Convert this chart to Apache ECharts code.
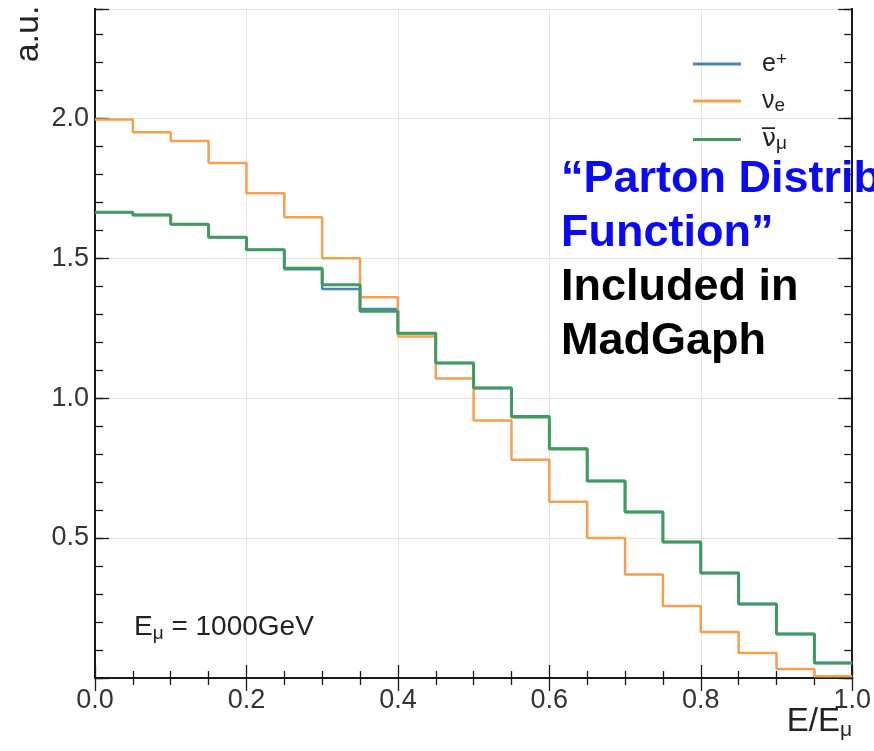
<!DOCTYPE html>
<html><head><meta charset="utf-8">
<script src="https://cdn.jsdelivr.net/npm/echarts@6/dist/echarts.min.js"></script>
<style>html,body{margin:0;padding:0;background:#fff}#c{width:874px;height:751px}</style>
</head><body><div id="c"></div>
<script>
// ---- data ----
const binEdges = [0.00,0.05,0.10,0.15,0.20,0.25,0.30,0.35,0.40,0.45,0.50,0.55,0.60,0.65,0.70,0.75,0.80,0.85,0.90,0.95,1.00];
const ePlus   = [1.664,1.654,1.621,1.575,1.530,1.460,1.390,1.318,1.232,1.125,1.036,0.935,0.820,0.704,0.593,0.486,0.375,0.264,0.157,0.054];
const nuE     = [1.995,1.950,1.918,1.840,1.732,1.646,1.500,1.360,1.220,1.070,0.920,0.780,0.630,0.500,0.370,0.257,0.164,0.089,0.032,0.006];
const nuMuBar = [1.664,1.654,1.621,1.575,1.530,1.464,1.405,1.310,1.232,1.125,1.036,0.932,0.818,0.704,0.593,0.486,0.375,0.264,0.157,0.054];
const seriesNames = ['e+','nue','numubar'];
const xTickLabels = ['0.0','0.2','0.4','0.6','0.8','1.0'];
const yTickLabels = ['0.5','1.0','1.5','2.0'];

const FONT = '"Liberation Sans", Arial, Helvetica, sans-serif';
const COLORS = ['#4b84b4', '#f6a04f', '#3f9b5e'];

function histData(vals) {
  const d = vals.map((v, i) => [binEdges[i], v]);
  d.push([binEdges[binEdges.length - 1], vals[vals.length - 1]]);
  return d;
}

const chart = echarts.init(document.getElementById('c'), null, {renderer: 'canvas'});

const axisLine = {show: true, lineStyle: {color: '#1a1a1a', width: 2}};
const yMax = 2.39;

function yAxisDef(pos, interval, tickLen, labels, split) {
  return {
    type: 'value', position: pos, min: 0, max: yMax, interval: interval,
    axisLine: axisLine,
    axisTick: {show: true, inside: true, length: tickLen, lineStyle: {color: '#1a1a1a', width: 1.3}},
    axisLabel: labels ? {
      show: true, fontSize: 27, fontFamily: FONT, color: '#333', margin: 6,
      formatter: function (v) {
        const s = v.toFixed(1);
        return yTickLabels.indexOf(s) >= 0 && Math.abs(v - parseFloat(s)) < 1e-6 ? s : '';
      }
    } : {show: false},
    splitLine: split ? {show: true, lineStyle: {color: '#e4e4e4', width: 1}} : {show: false}
  };
}

function xAxisDef(pos, labels, split) {
  return {
    type: 'value', position: pos, min: 0, max: 1, interval: 0.2,
    axisLine: axisLine,
    axisTick: {show: true, inside: true, length: 13, lineStyle: {color: '#1a1a1a', width: 1.3}},
    minorTick: {show: true, splitNumber: 4, length: 7, lineStyle: {color: '#1a1a1a', width: 1.3}},
    axisLabel: labels ? {
      show: true, fontSize: 27, fontFamily: FONT, color: '#333', margin: 9,
      formatter: function (v) { const s = v.toFixed(1); return xTickLabels.indexOf(s) >= 0 ? s : ''; }
    } : {show: false},
    splitLine: split ? {show: true, lineStyle: {color: '#e4e4e4', width: 1}} : {show: false}
  };
}

const legendLabels = {
  'e+': '{m|e}{sup|+}',
  'nue': '{m|ν}{sub|e}',
  'numubar': '{nb|ν\u0305}{sub|μ}'
};

const option = {
  backgroundColor: '#ffffff',
  animation: false,
  grid: {left: 95, right: 20, top: 9, bottom: 73, containLabel: false},
  xAxis: [xAxisDef('bottom', true, true), xAxisDef('top', false, false)],
  yAxis: [
    yAxisDef('left', 0.5, 14, true, true),
    yAxisDef('left', 0.1, 8, false, false),
    yAxisDef('right', 0.5, 14, false, false),
    yAxisDef('right', 0.1, 8, false, false)
  ],
  legend: {
    orient: 'vertical', left: 688, top: 45,
    itemWidth: 48, itemHeight: 3, itemGap: 12,
    icon: 'rect',
    data: seriesNames,
    formatter: function (n) { return legendLabels[n]; },
    textStyle: {
      padding: [0, 0, 0, 16],
      rich: {
        m: {fontSize: 25, fontFamily: FONT, color: '#222', lineHeight: 28},
        nb: {fontSize: 25, fontFamily: '"DejaVu Sans", sans-serif', color: '#222', lineHeight: 28},
        sup: {fontSize: 19, fontFamily: FONT, color: '#222', verticalAlign: 'top', lineHeight: 28},
        sub: {fontSize: 19, fontFamily: FONT, color: '#222', verticalAlign: 'bottom', lineHeight: 26}
      }
    }
  },
  series: [ePlus, nuE, nuMuBar].map((vals, i) => ({
    name: seriesNames[i],
    type: 'line',
    step: 'end',
    xAxisIndex: 0, yAxisIndex: 0,
    data: histData(vals),
    showSymbol: false, symbol: 'none',
    lineStyle: {color: COLORS[i], width: i === 2 ? 3 : 2.5},
    itemStyle: {color: COLORS[i]},
    z: 3 + i
  })),
  graphic: [
    {
      type: 'text', left: 561, top: 157, z: 100,
      style: {
        text: '{b|“Parton Distribution}\n{b|Function”}\n{k|Included in}\n{k|MadGaph}',
        rich: {
          b: {fill: '#0a0af5', fontSize: 45, fontWeight: 'bold', fontFamily: FONT, lineHeight: 54},
          k: {fill: '#000000', fontSize: 45, fontWeight: 'bold', fontFamily: FONT, lineHeight: 54}
        }
      }
    },
    {
      type: 'text', left: 134, top: 613, z: 100,
      style: {
        text: '{m|E}{s|μ}{m| = 1000GeV}',
        rich: {
          m: {fill: '#222', fontSize: 28, fontFamily: FONT, lineHeight: 33},
          s: {fill: '#222', fontSize: 19, fontFamily: FONT, lineHeight: 30, verticalAlign: 'bottom'}
        }
      }
    },
    {
      type: 'text', right: 22, top: 705, z: 100,
      style: {
        text: '{m|E/E}{s|μ}',
        rich: {
          m: {fill: '#222', fontSize: 33, fontFamily: FONT, lineHeight: 38},
          s: {fill: '#222', fontSize: 21, fontFamily: FONT, lineHeight: 38, verticalAlign: 'bottom'}
        }
      }
    },
    {
      type: 'text', x: 29, y: 34, rotation: Math.PI / 2, z: 100,
      style: {
        text: 'a.u.', fill: '#222', fontSize: 34, fontFamily: FONT,
        align: 'center', verticalAlign: 'middle'
      }
    }
  ]
};
chart.setOption(option);
</script></body></html>
